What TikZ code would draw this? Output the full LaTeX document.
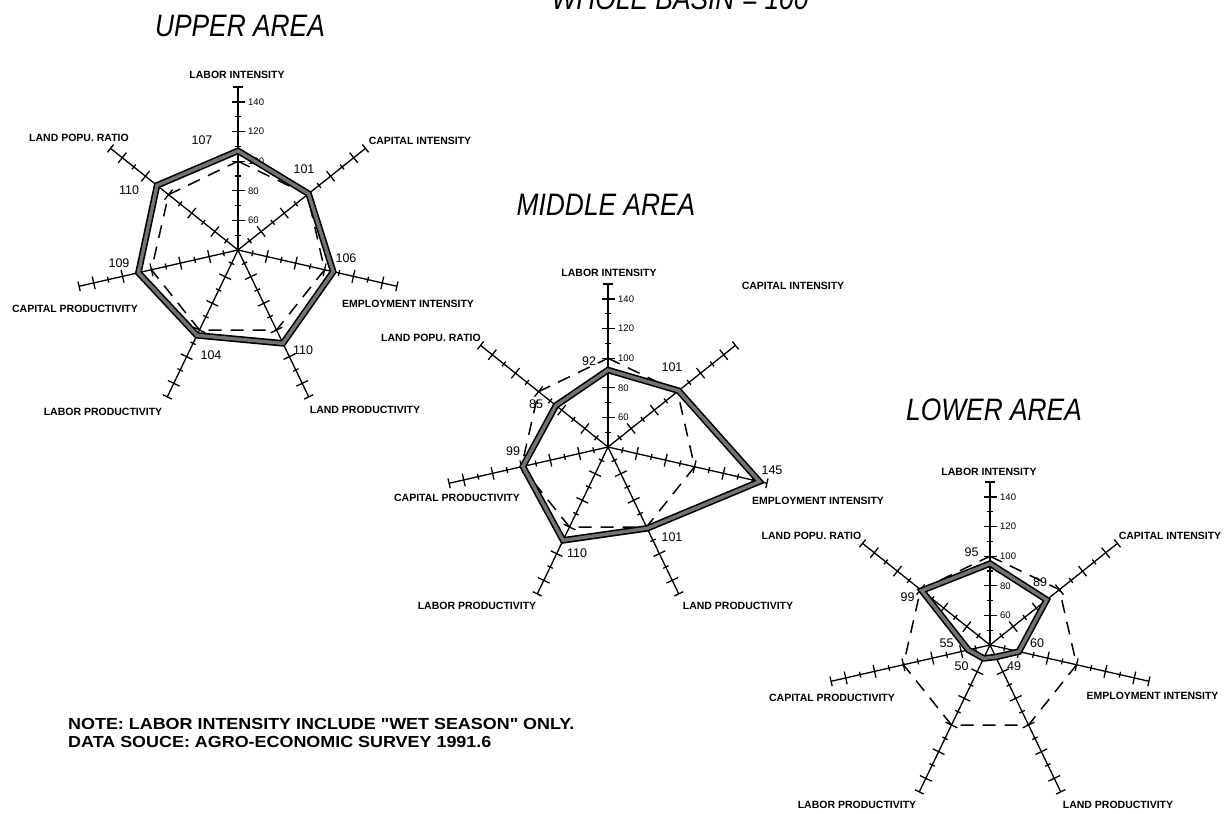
\documentclass[tikz,border=0pt]{standalone}
\usepackage{fontspec}
\setmainfont{Liberation Sans}
\newfontfamily\titlefont{Liberation Sans}[FakeStretch=0.85]
\newfontfamily\notefont{Liberation Sans}[FakeStretch=1.12]
\usetikzlibrary{calc}

% radial scale: the centre of every chart is the value 40
\newcommand\unitlen{1.48}

\tikzset{
  axisline/.style={line width=1.3pt},
  mainaxis/.style={line width=1.8pt},
  tickmark/.style={line width=1.3pt},
  basepoly/.style={dash pattern=on 13pt off 9pt, line width=1.5pt},
  datapoly/.style={draw=black, line width=1.6pt, double=black!55,
    double distance=3.4pt, line join=miter},
  axislabel/.style={font=\bfseries\fontsize{10.5}{12}\selectfont, inner sep=0pt},
  vallabel/.style={font=\fontsize{12.5}{14}\selectfont, inner sep=0pt},
  ticklabel/.style={font=\fontsize{9.5}{10}\selectfont, inner sep=0pt, anchor=west},
  charttitle/.style={font=\titlefont\itshape\fontsize{31}{36}\selectfont,
    inner sep=0pt, anchor=base},
  notetext/.style={font=\notefont\bfseries\fontsize{16}{19}\selectfont, inner sep=0pt,
    anchor=base west},
}

% #1 name prefix, #2 centre, #3 the seven values (clockwise from the top)
\newcommand\radarchart[3]{%
  \coordinate (#1c) at (#2);
  \foreach \k in {0,...,6} {
    \pgfmathsetmacro\ang{\k*360/7-90}
    \coordinate (#1e\k) at ($(#1c)+(\ang:163)$);
    \ifnum\k=0
      \draw[mainaxis] (#1c) -- (#1e\k);
    \else
      \draw[axisline] (#1c) -- (#1e\k);
    \fi
    \foreach \v in {50,60,...,140} {
      \pgfmathsetmacro\r{(\v-40)*\unitlen}
      \pgfmathsetmacro\h{mod(\v,20)==0 ? 6.5 : 3}
      \draw[tickmark] ($(#1c)+(\ang:\r)+(\ang+90:\h)$) --
                      ($(#1c)+(\ang:\r)+(\ang-90:\h)$);
    }
    \draw[tickmark] ($(#1e\k)+(\ang+90:5)$) -- ($(#1e\k)+(\ang-90:5)$);
  }
  \foreach \v in {60,80,...,140} {
    \pgfmathsetmacro\r{(\v-40)*\unitlen}
    \node[ticklabel] (#1t\v) at ($(#1c)+(10,-\r)$) {\v};
  }
  \foreach \val [count=\n from 0] in {#3} {
    \pgfmathsetmacro\ang{\n*360/7-90}
    \pgfmathsetmacro\r{(\val-40)*\unitlen}
    \coordinate (#1v\n) at ($(#1c)+(\ang:\r)$);
    \coordinate (#1b\n) at ($(#1c)+(\ang:60*\unitlen)$);
  }
  \draw[basepoly] (#1b0) -- (#1b1) -- (#1b2) -- (#1b3) -- (#1b4) -- (#1b5) -- (#1b6) -- cycle;
  \draw[datapoly] (#1v0) -- (#1v1) -- (#1v2) -- (#1v3) -- (#1v4) -- (#1v5) -- (#1v6) -- cycle;
}

\begin{document}
\begin{tikzpicture}[x=1pt, y=-1pt]
\useasboundingbox (0,0) rectangle (1230,813);
\fill[white] (0,0) rectangle (1230,813);

% headings
\node[charttitle] (whole) at (680,10) {WHOLE BASIN = 100};
\node[charttitle] (tup) at (240,37) {UPPER AREA};
\node[charttitle] (tmid) at (606,215) {MIDDLE AREA};
\node[charttitle] (tlow) at (994,420) {LOWER AREA};

% ---------------- upper area ----------------
\radarchart{U}{238,250}{107,101,106,110,104,109,110}
\node[vallabel] (Un0) at (202,140.5) {107};
\node[vallabel] (Un1) at (304,169) {101};
\node[vallabel] (Un2) at (346,258) {106};
\node[vallabel] (Un3) at (303,350) {110};
\node[vallabel] (Un4) at (211,355) {104};
\node[vallabel] (Un5) at (119,263) {109};
\node[vallabel] (Un6) at (129,190) {110};
\node[axislabel] (Ua0) at (237,75) {LABOR INTENSITY};
\node[axislabel] (Ua1) at (420,141) {CAPITAL INTENSITY};
\node[axislabel] (Ua2) at (408,304) {EMPLOYMENT INTENSITY};
\node[axislabel] (Ua3) at (365,410) {LAND PRODUCTIVITY};
\node[axislabel] (Ua4) at (103,411.5) {LABOR PRODUCTIVITY};
\node[axislabel] (Ua5) at (75,309) {CAPITAL PRODUCTIVITY};
\node[axislabel] (Ua6) at (79,137.5) {LAND POPU. RATIO};

% ---------------- middle area ----------------
\radarchart{M}{608,447}{92,101,145,101,110,99,85}
\node[vallabel] (Mn0) at (589,361) {92};
\node[vallabel] (Mn1) at (672,367) {101};
\node[vallabel] (Mn2) at (772,470) {145};
\node[vallabel] (Mn3) at (672,537) {101};
\node[vallabel] (Mn4) at (577,553) {110};
\node[vallabel] (Mn5) at (513,451) {99};
\node[vallabel] (Mn6) at (536,404.5) {85};
\node[axislabel] (Ma0) at (609,272.5) {LABOR INTENSITY};
\node[axislabel] (Ma1) at (793,286) {CAPITAL INTENSITY};
\node[axislabel] (Ma2) at (818,501) {EMPLOYMENT INTENSITY};
\node[axislabel] (Ma3) at (738,606) {LAND PRODUCTIVITY};
\node[axislabel] (Ma4) at (477,606) {LABOR PRODUCTIVITY};
\node[axislabel] (Ma5) at (457,497.5) {CAPITAL PRODUCTIVITY};
\node[axislabel] (Ma6) at (431,337.5) {LAND POPU. RATIO};

% ---------------- lower area ----------------
\radarchart{L}{990,645}{95,89,60,49,50,55,99}
\node[vallabel] (Ln0) at (971.5,552.5) {95};
\node[vallabel] (Ln1) at (1040,582.5) {89};
\node[vallabel] (Ln2) at (1037,643) {60};
\node[vallabel] (Ln3) at (1014,666) {49};
\node[vallabel] (Ln4) at (961.5,666) {50};
\node[vallabel] (Ln5) at (946.5,643) {55};
\node[vallabel] (Ln6) at (907.5,597) {99};
\node[axislabel] (La0) at (989,472) {LABOR INTENSITY};
\node[axislabel] (La1) at (1170,536) {CAPITAL INTENSITY};
\node[axislabel] (La2) at (1152.5,696) {EMPLOYMENT INTENSITY};
\node[axislabel] (La3) at (1118,805) {LAND PRODUCTIVITY};
\node[axislabel] (La4) at (857,805) {LABOR PRODUCTIVITY};
\node[axislabel] (La5) at (832,697.5) {CAPITAL PRODUCTIVITY};
\node[axislabel] (La6) at (811.5,536) {LAND POPU. RATIO};

% footnote
\node[notetext] (note1) at (68,729) {NOTE: LABOR INTENSITY INCLUDE "WET SEASON" ONLY.};
\node[notetext] (note2) at (68,747.5) {DATA SOUCE: AGRO-ECONOMIC SURVEY 1991.6};
\end{tikzpicture}
\end{document}
